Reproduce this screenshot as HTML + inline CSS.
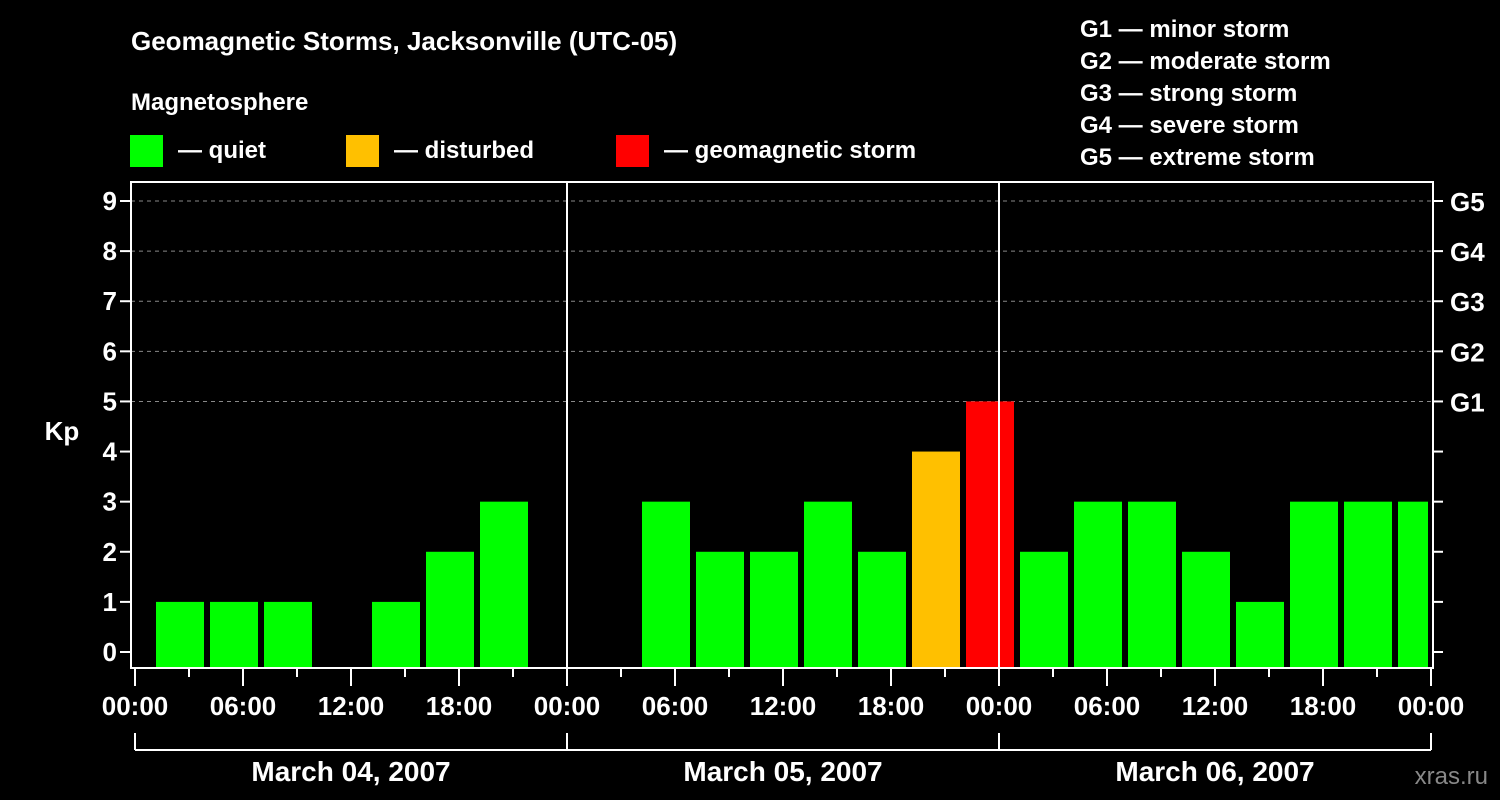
<!DOCTYPE html>
<html><head><meta charset="utf-8"><style>
html,body{margin:0;padding:0;background:#000;}
svg{display:block;font-family:"Liberation Sans",Arial,sans-serif;font-weight:bold;}
</style></head><body>
<svg id="c" width="1500" height="800" viewBox="0 0 1500 800">
<rect x="0" y="0" width="1500" height="800" fill="#000"/>
<text x="131" y="50" fill="#fff" font-size="26">Geomagnetic Storms, Jacksonville (UTC-05)</text>
<text x="131" y="110" fill="#fff" font-size="24">Magnetosphere</text>
<g><rect x="130" y="135" width="33" height="32" fill="#00ff00"/><text x="178" y="158" fill="#fff" font-size="24">— quiet</text></g>
<g><rect x="346" y="135" width="33" height="32" fill="#ffc000"/><text x="394" y="158" fill="#fff" font-size="24">— disturbed</text></g>
<g><rect x="616" y="135" width="33" height="32" fill="#ff0000"/><text x="664" y="158" fill="#fff" font-size="24">— geomagnetic storm</text></g>
<g fill="#fff" font-size="24">
<text x="1080" y="37">G1 — minor storm</text>
<text x="1080" y="69">G2 — moderate storm</text>
<text x="1080" y="101">G3 — strong storm</text>
<text x="1080" y="133">G4 — severe storm</text>
<text x="1080" y="165">G5 — extreme storm</text>
</g>
<text x="62" y="440" fill="#fff" font-size="26" text-anchor="middle">Kp</text>
<text x="1488" y="784" fill="#888" font-size="24" text-anchor="end" font-weight="normal">xras.ru</text>
<g id="plot"></g>
</svg>
<script>
const kpValues = [1,1,1,0,1,2,3,0, 0,3,2,2,3,2,4,5, 2,3,3,2,1,3,3,3];
const yTicks = [0,1,2,3,4,5,6,7,8,9];
const gLabels = ["G1","G2","G3","G4","G5"];
const gLevels = [5,6,7,8,9];
const xTickLabels = ["00:00","06:00","12:00","18:00","00:00","06:00","12:00","18:00","00:00","06:00","12:00","18:00","00:00"];
const dateLabels = ["March 04, 2007","March 05, 2007","March 06, 2007"];
const barOffsetHours = 1;

const L=131,R=1433,T=182,B=668,X0=135,pxH=18;
const y=v=>652-v*(652-201)/9;
const x=h=>X0+h*pxH;
const ns="http://www.w3.org/2000/svg";
const g=document.getElementById('plot');
function mk(t,a){const e=document.createElementNS(ns,t);for(const k in a)e.setAttribute(k,a[k]);g.appendChild(e);return e;}
function col(v){return v>=5?"#ff0000":v>=4?"#ffc000":"#00ff00";}

gLevels.forEach((lv,i)=>{
 const e=mk('line',{x1:L,x2:R,y1:y(lv),y2:y(lv),stroke:"#888","stroke-dasharray":"4,4","stroke-width":1});
 
 
 const t=mk('text',{x:1450,y:y(lv)+10,fill:"#fff","font-size":26});t.textContent=gLabels[i];
 
 
});
kpValues.forEach((v,i)=>{
 if(v<=0)return;
 const s=x(barOffsetHours+3*i)+3;let e2=s+48;if(e2>R-5)e2=R-5;
 const r=mk('rect',{x:s,y:y(v),width:e2-s,height:B-y(v),fill:col(v)});
 
 
});
[567,999].forEach(px=>{
 const e=mk('line',{x1:px,x2:px,y1:T,y2:B,stroke:"#fff","stroke-width":2});
 
 
});
const fr=mk('rect',{x:L,y:T,width:R-L,height:B-T,fill:"none",stroke:"#fff","stroke-width":2});


yTicks.forEach(v=>{
 mk('line',{x1:L-11,x2:L,y1:y(v),y2:y(v),stroke:"#fff","stroke-width":2});
 mk('line',{x1:R,x2:R+10,y1:y(v),y2:y(v),stroke:"#fff","stroke-width":2});
 const t=mk('text',{x:L-14,y:y(v)+9,fill:"#fff","font-size":26,"text-anchor":"end"});t.textContent=v;
 
 
});
for(let h=0;h<=72;h+=3){
 const long=h%6===0;
 mk('line',{x1:x(h),x2:x(h),y1:B,y2:B+(long?18:9),stroke:"#fff","stroke-width":2});
}
xTickLabels.forEach((lb,i)=>{
 const t=mk('text',{x:x(i*6),y:715,fill:"#fff","font-size":26,"text-anchor":"middle"});t.textContent=lb;
 
 
});
mk('line',{x1:x(0),x2:x(72),y1:750,y2:750,stroke:"#fff","stroke-width":2});
for(let d=0;d<=3;d++)mk('line',{x1:x(d*24),x2:x(d*24),y1:733,y2:750,stroke:"#fff","stroke-width":2});
dateLabels.forEach((lb,i)=>{
 const t=mk('text',{x:x(i*24+12),y:781,fill:"#fff","font-size":28,"text-anchor":"middle"});t.textContent=lb;
 
 
});
</script>
</body></html>
